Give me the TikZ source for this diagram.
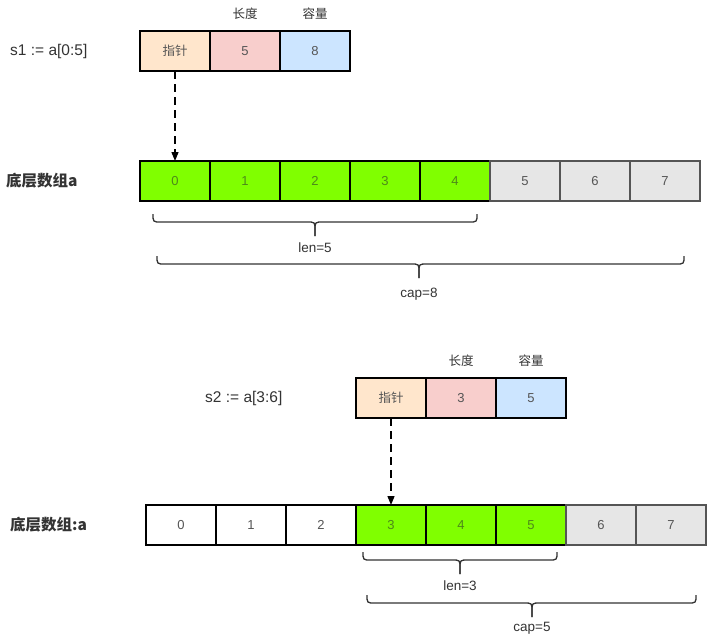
\documentclass[tikz,border=0pt]{standalone}
\usepackage{fontspec}
\setmainfont{Liberation Sans}
\newfontfamily\cjk{Noto Sans CJK SC}
\usetikzlibrary{arrows.meta}
\definecolor{ptrfill}{HTML}{FFE6CC}
\definecolor{lenfill}{HTML}{F8CECC}
\definecolor{capfill}{HTML}{CCE5FF}
\definecolor{usedfill}{HTML}{80FF00}
\definecolor{freefill}{HTML}{E6E6E6}
\definecolor{celltext}{HTML}{555555}
\definecolor{greentext}{HTML}{4D8A1A}
\definecolor{labeltext}{HTML}{333333}
\definecolor{bracecol}{HTML}{333333}
\definecolor{greyborder}{HTML}{555555}
\newcommand{\hbrace}[4]{%
  \draw[bracestyle] (#1,#4) .. controls (#1,#4+8) .. (#1+8,#4+8) -- (#3-8,#4+8) .. controls (#3,#4+8) .. (#3,#4+16) -- (#3,#4+22);
  \draw[bracestyle] (#3,#4+22) -- (#3,#4+16) .. controls (#3,#4+8) .. (#3+8,#4+8) -- (#2-8,#4+8) .. controls (#2,#4+8) .. (#2,#4);
}
\tikzset{
  cell/.style={draw=black, line width=1.3pt, minimum width=70pt, minimum height=40pt, inner sep=0pt, outer sep=0pt, font=\fontsize{13}{15}\selectfont, text=celltext},
  ptrcell/.style={cell, fill=ptrfill, font=\cjk\fontsize{12.5}{15}\selectfont},
  lencell/.style={cell, fill=lenfill},
  capcell/.style={cell, fill=capfill},
  usedcell/.style={cell, fill=usedfill, text=greentext},
  freecell/.style={cell, fill=freefill, draw=greyborder},
  plaincell/.style={cell, fill=white},
  hdr/.style={font=\cjk\fontsize{12.5}{15}\selectfont, text=labeltext},
  biglabel/.style={font=\fontsize{15.5}{18}\selectfont, text=labeltext, anchor=west, inner sep=0pt},
  cjklabel/.style={font=\cjk\bfseries\fontsize{15.5}{18}\selectfont, text=labeltext, anchor=west, inner sep=0pt},
  bracelabel/.style={font=\fontsize{13.5}{16}\selectfont, text=labeltext},
  bracestyle/.style={draw=bracecol, line width=1.3pt},
  ptrarrow/.style={draw=black, line width=1.3pt, dash pattern=on 8pt off 5pt, -{Triangle[length=9pt,width=7pt]}}
}
\begin{document}
\begin{tikzpicture}[x=1pt, y=-1pt]
\useasboundingbox (0,0) rectangle (714,638);
% ---------- top: s1 ----------
\node[biglabel] (s1lbl) at (10,51) {s1 := a[0:5]};
\node[hdr] (h1len) at (245,14) {长度};
\node[hdr] (h1cap) at (315,14) {容量};
\node[ptrcell] (p1) at (175,51) {指针};
\node[lencell] (l1) at (245,51) {5};
\node[capcell] (c1) at (315,51) {8};

\node[cjklabel] (arr1lbl) at (6,181) {底层数组a};
\foreach \i in {0,...,4} {
  \node[usedcell] (a1\i) at (175+70*\i,181) {\i};
}
\foreach \i in {5,...,7} {
  \node[freecell] (a1\i) at (175+70*\i,181) {\i};
}
\draw[ptrarrow] (p1.south) -- (a10.north);

\hbrace{153}{477}{315}{214}
\node[bracelabel] (len1) at (315,248) {len=5};
\hbrace{157}{684}{419}{256}
\node[bracelabel] (cap1) at (419,294) {cap=8};

% ---------- bottom: s2 ----------
\node[biglabel] (s2lbl) at (205,398) {s2 := a[3:6]};
\node[hdr] (h2len) at (461,361) {长度};
\node[hdr] (h2cap) at (531,361) {容量};
\node[ptrcell] (p2) at (391,398) {指针};
\node[lencell] (l2) at (461,398) {3};
\node[capcell] (c2) at (531,398) {5};

\node[cjklabel] (arr2lbl) at (10,525) {底层数组:a};
\foreach \i in {0,...,2} {
  \node[plaincell] (a2\i) at (181+70*\i,525) {\i};
}
\foreach \i in {3,...,5} {
  \node[usedcell] (a2\i) at (181+70*\i,525) {\i};
}
\foreach \i in {6,7} {
  \node[freecell] (a2\i) at (181+70*\i,525) {\i};
}
\draw[ptrarrow] (p2.south) -- (a23.north);

\hbrace{363}{557}{460}{552}
\node[bracelabel] (len2) at (460,586) {len=3};
\hbrace{367}{696}{532}{595}
\node[bracelabel] (cap2) at (532,628) {cap=5};
\end{tikzpicture}
\end{document}
